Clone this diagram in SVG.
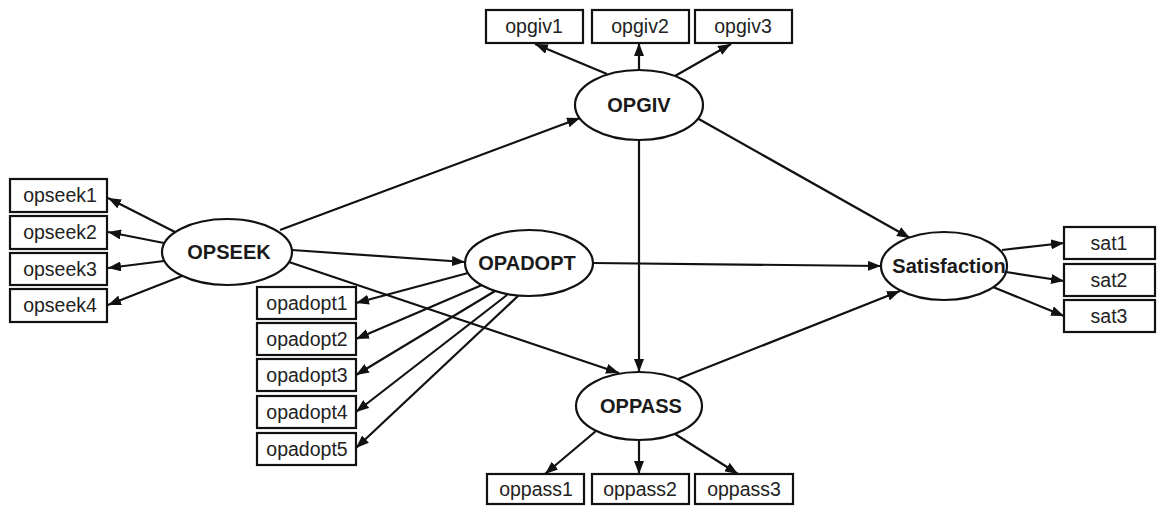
<svg xmlns="http://www.w3.org/2000/svg" width="1158" height="506" viewBox="0 0 1158 506">
<style>
.box{fill:#fff;stroke:#111;stroke-width:2.2}
.ell{fill:#fff;stroke:#111;stroke-width:2.2}
.t{font-family:"Liberation Sans",Arial,sans-serif;font-size:19.5px;fill:#222;text-anchor:middle}
.b{font-family:"Liberation Sans",Arial,sans-serif;font-size:20px;font-weight:bold;fill:#1a1a1a;text-anchor:middle}
.c line{stroke:#111;stroke-width:2.2;marker-end:url(#ah)}
</style>
<defs>
<marker id="ah" markerUnits="userSpaceOnUse" markerWidth="13" markerHeight="10" refX="13" refY="5" orient="auto">
<path d="M0,0 L13,5 L0,10 z" fill="#111"/>
</marker>
</defs>
<rect width="1158" height="506" fill="#fff"/>
<g class="c" id="connectors">
<line x1="175" y1="232" x2="108" y2="198"/>
<line x1="164" y1="243" x2="108" y2="232"/>
<line x1="164" y1="261" x2="108" y2="268"/>
<line x1="182" y1="276" x2="108" y2="305"/>
<line x1="607" y1="74" x2="535" y2="44"/>
<line x1="639" y1="70" x2="639" y2="43"/>
<line x1="675" y1="76" x2="731" y2="44"/>
<line x1="280" y1="230" x2="580" y2="118"/>
<line x1="292" y1="250" x2="465" y2="262"/>
<line x1="289" y1="262" x2="619" y2="373"/>
<line x1="639" y1="140" x2="639" y2="372"/>
<line x1="697" y1="118" x2="910" y2="238"/>
<line x1="593" y1="263" x2="881" y2="266"/>
<line x1="678" y1="379" x2="900" y2="291"/>
<line x1="1002" y1="250" x2="1064" y2="243"/>
<line x1="1006" y1="272" x2="1064" y2="281"/>
<line x1="993" y1="287" x2="1064" y2="316"/>
<line x1="468" y1="273" x2="356" y2="303"/>
<line x1="482" y1="285" x2="356" y2="339"/>
<line x1="495" y1="291" x2="356" y2="375"/>
<line x1="507" y1="295" x2="356" y2="412"/>
<line x1="518" y1="296" x2="356" y2="448"/>
<line x1="596" y1="431" x2="545" y2="474"/>
<line x1="639" y1="440" x2="639" y2="474"/>
<line x1="675" y1="434" x2="738" y2="474"/>
</g>
<g id="OPSEEK"><ellipse class="ell" cx="227" cy="252" rx="65" ry="33"/><text class="b" x="229" y="259">OPSEEK</text></g>
<g id="OPGIV"><ellipse class="ell" cx="639" cy="105" rx="64" ry="35"/><text class="b" x="639" y="112">OPGIV</text></g>
<g id="OPADOPT"><ellipse class="ell" cx="529" cy="263" rx="64" ry="33"/><text class="b" x="527" y="270">OPADOPT</text></g>
<g id="OPPASS"><ellipse class="ell" cx="639" cy="406" rx="63" ry="34"/><text class="b" x="641" y="413">OPPASS</text></g>
<g id="Satisfaction"><ellipse class="ell" cx="944" cy="266" rx="63" ry="34"/><text class="b" x="949" y="273">Satisfaction</text></g>
<g id="opseek1"><rect class="box" x="10" y="179" width="97" height="33"/><text class="t" x="60" y="202">opseek1</text></g>
<g id="opseek2"><rect class="box" x="10" y="216" width="97" height="33"/><text class="t" x="60" y="239">opseek2</text></g>
<g id="opseek3"><rect class="box" x="10" y="253" width="97" height="32"/><text class="t" x="60" y="276">opseek3</text></g>
<g id="opseek4"><rect class="box" x="10" y="289" width="97" height="33"/><text class="t" x="60" y="312">opseek4</text></g>
<g id="opgiv1"><rect class="box" x="486" y="10" width="97" height="33"/><text class="t" x="534" y="33">opgiv1</text></g>
<g id="opgiv2"><rect class="box" x="592" y="10" width="97" height="33"/><text class="t" x="640" y="33">opgiv2</text></g>
<g id="opgiv3"><rect class="box" x="695" y="10" width="97" height="33"/><text class="t" x="743" y="33">opgiv3</text></g>
<g id="opadopt1"><rect class="box" x="257" y="287" width="99" height="32"/><text class="t" x="307" y="310">opadopt1</text></g>
<g id="opadopt2"><rect class="box" x="257" y="323" width="99" height="32"/><text class="t" x="307" y="346">opadopt2</text></g>
<g id="opadopt3"><rect class="box" x="257" y="359" width="99" height="32"/><text class="t" x="307" y="382">opadopt3</text></g>
<g id="opadopt4"><rect class="box" x="257" y="396" width="99" height="32"/><text class="t" x="307" y="419">opadopt4</text></g>
<g id="opadopt5"><rect class="box" x="257" y="433" width="99" height="32"/><text class="t" x="307" y="456">opadopt5</text></g>
<g id="oppass1"><rect class="box" x="487" y="474" width="97" height="30"/><text class="t" x="536" y="496">oppass1</text></g>
<g id="oppass2"><rect class="box" x="592" y="474" width="97" height="30"/><text class="t" x="640" y="496">oppass2</text></g>
<g id="oppass3"><rect class="box" x="695" y="474" width="98" height="30"/><text class="t" x="744" y="496">oppass3</text></g>
<g id="sat1"><rect class="box" x="1064" y="227" width="91" height="32"/><text class="t" x="1109" y="250">sat1</text></g>
<g id="sat2"><rect class="box" x="1064" y="264" width="91" height="32"/><text class="t" x="1109" y="287">sat2</text></g>
<g id="sat3"><rect class="box" x="1064" y="300" width="91" height="32"/><text class="t" x="1109" y="323">sat3</text></g>
</svg>
